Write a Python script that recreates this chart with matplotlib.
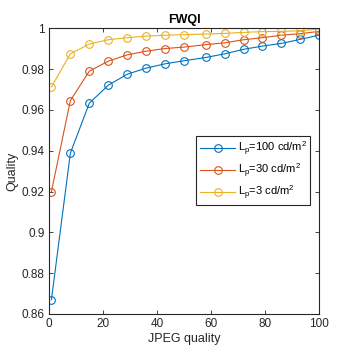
# FWQI vs JPEG quality for three peak luminances
import matplotlib
matplotlib.use('Agg')
from matplotlib import pyplot as plt

plt.rcParams['font.family'] = ['Liberation Sans', 'DejaVu Sans']
plt.rcParams['mathtext.fontset'] = 'custom'
plt.rcParams['mathtext.rm'] = 'Liberation Sans'
plt.rcParams['mathtext.it'] = 'Liberation Sans'

# data
jpeg_q = [1, 8, 15, 22, 29, 36, 43, 50, 58, 65, 72, 79, 86, 93, 100]
q_100 = [0.867, 0.9388, 0.9633, 0.9721, 0.9775, 0.9805, 0.9826, 0.9841,
         0.9857, 0.9875, 0.9897, 0.9913, 0.9926, 0.9946, 0.9967]
q_30 = [0.920, 0.9646, 0.9790, 0.9839, 0.9870, 0.9888, 0.9901, 0.9908,
        0.9920, 0.9929, 0.9944, 0.9954, 0.9966, 0.9974, 0.9985]
q_3 = [0.9713, 0.9875, 0.9923, 0.9944, 0.9954, 0.9962, 0.9966, 0.9969,
       0.9972, 0.9975, 0.9980, 0.9984, 0.9985, 0.9988, 0.9997]
labels = ['L$_\\mathrm{p}$=100 cd/m$^2$', 'L$_\\mathrm{p}$=30 cd/m$^2$',
          'L$_\\mathrm{p}$=3 cd/m$^2$']
colors = ['#0072BD', '#D95319', '#EDB120']

fig = plt.figure(figsize=(3.54, 3.54), dpi=100)
ax = fig.add_axes([0.1376, 0.113, 0.7644, 0.807])

for ys, lab, c in zip([q_100, q_30, q_3], labels, colors):
    ax.plot(jpeg_q, ys, '-o', color=c, lw=0.8, ms=5.5, mfc='none', mew=0.8, label=lab)

ax.set_xlim(0, 100)
ax.set_ylim(0.86, 1.0)
ax.set_xticks([0, 20, 40, 60, 80, 100])
ax.set_yticks([0.86, 0.88, 0.9, 0.92, 0.94, 0.96, 0.98, 1.0])
ax.set_yticklabels(['0.86', '0.88', '0.9', '0.92', '0.94', '0.96', '0.98', '1'])
ax.tick_params(direction='in', top=True, right=True, length=3, width=0.6,
               labelsize=8.5, colors='#262626', pad=3)
for s in ax.spines.values():
    s.set_color('#262626')
    s.set_linewidth(0.8)

ax.set_xlabel('JPEG quality', fontsize=9, color='#262626', labelpad=2)
ax.set_ylabel('Quality', fontsize=9, color='#262626', labelpad=2)
ax.set_title('FWQI', fontsize=9, fontweight='bold', pad=4)

leg = ax.legend(loc='upper right', bbox_to_anchor=(0.966, 0.623), fontsize=8,
                fancybox=False, edgecolor='#262626', framealpha=1,
                handlelength=3.2, borderpad=0.3, labelspacing=0.35,
                handletextpad=0.2, borderaxespad=0)
leg.get_frame().set_linewidth(0.8)

plt.savefig('out.png', dpi=100)
